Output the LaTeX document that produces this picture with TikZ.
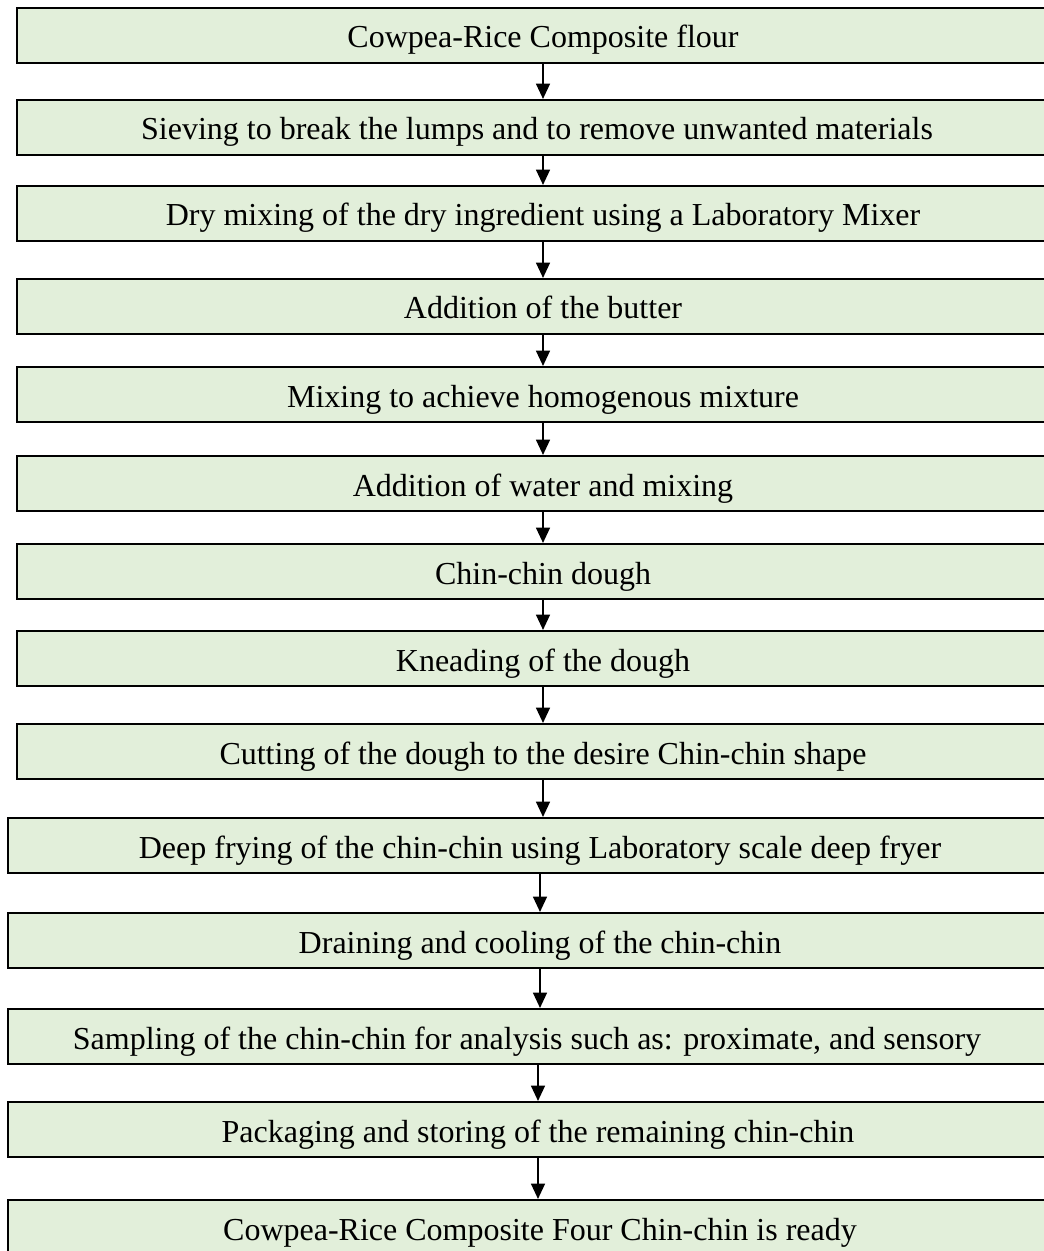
\documentclass[tikz,border=0pt]{standalone}
\usepackage{fontspec}
\setmainfont{Liberation Serif}
\usetikzlibrary{arrows.meta}
\definecolor{boxgreen}{HTML}{E2EFDA}
\begin{document}
\begin{tikzpicture}[x=0.75pt,y=-0.75pt,
  stepbox/.style={draw=black, fill=boxgreen, line width=1.6pt, rectangle,
    minimum height=41.25pt, inner sep=0pt, text height=18.75pt, text depth=0pt,
    font=\fontsize{24}{29}\selectfont},
  wideA/.style={stepbox, minimum width=789pt},
  wideB/.style={stepbox, minimum width=798pt},
  flow/.style={-{Triangle[width=10.5pt,length=11.5pt]}, line width=1.1pt}]
\useasboundingbox (0,0) rectangle (1044,1251);
\clip (0,0) rectangle (1044,1251);
\node[wideA] (b1) at (543,35.5) {Cowpea-Rice Composite flour};
\node[wideA, minimum width=780pt] (b2) at (537,127.5) {Sieving to break the lumps and to remove unwanted materials};
\node[wideA] (b3) at (543,213.5) {Dry mixing of the dry ingredient using a Laboratory Mixer};
\node[wideA] (b4) at (543,306.5) {Addition of the butter};
\node[wideA] (b5) at (543,394.5) {Mixing to achieve homogenous mixture};
\node[wideA] (b6) at (543,483.5) {Addition of water and mixing};
\node[wideA] (b7) at (543,571.5) {Chin-chin dough};
\node[wideA] (b8) at (543,658.5) {Kneading of the dough};
\node[wideA] (b9) at (543,751.5) {Cutting of the dough to the desire Chin-chin shape};
\node[wideB] (b10) at (540,845.5) {Deep frying of the chin-chin using Laboratory scale deep fryer};
\node[wideB] (b11) at (540,940.5) {Draining and cooling of the chin-chin};
\node[stepbox, minimum width=778.5pt] (b12) at (527,1036.5) {Sampling of the chin-chin for analysis such as: proximate, and sensory};
\node[stepbox, minimum width=795pt] (b13) at (538,1129.5) {Packaging and storing of the remaining chin-chin};
\node[wideB] (b14) at (540,1227.5) {Cowpea-Rice Composite Four Chin-chin is ready};
\foreach \a/\b in {b1/b2,b3/b4,b4/b5,b5/b6,b6/b7,b7/b8,b8/b9,b9/b10,b10/b11,b11/b12}
  \draw[flow] (\a.south) -- (\a.south |- \b.north);
\draw[flow] (b2.south -| b1.south) -- (b3.north -| b1.south);
\draw[flow] (b12.south -| b13.south) -- (b13.north);
\draw[flow] (b13.south) -- (b13.south |- b14.north);
\end{tikzpicture}
\end{document}
